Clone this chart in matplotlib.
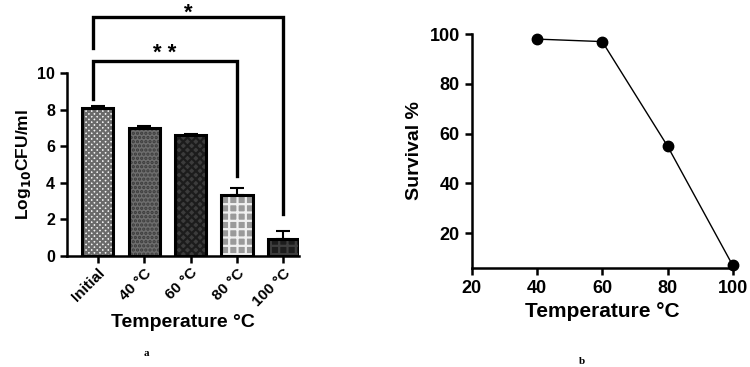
import numpy as np
import matplotlib
matplotlib.use("Agg")
import matplotlib.pyplot as plt

plt.rcParams["font.family"] = ["Liberation Sans", "DejaVu Sans"]
plt.rcParams["font.weight"] = "bold"
plt.rcParams["hatch.linewidth"] = 1.6

# panel a: bar chart
GROUPS = ["Initial", "40 °C", "60 °C", "80 °C", "100 °C"]
LOG_CFU = [8.1, 7.0, 6.62, 3.33, 0.92]
LOG_ERR = [0.1, 0.1, 0.05, 0.38, 0.47]
FACES = ["#f2f2f2", "#6e6e6e", "#3c3c3c", "#9a9a9a", "#1c1c1c"]
HATCH_COL = ["#6a6a6a", "#3a3a3a", "#1c1c1c", "#f0f0f0", "#3e3e3e"]
HATCHES = ["xxxxxx", "....", "xxxx", "++", "++"]

# significance brackets: (left idx, right idx, y bar, left leg end, right leg end, label, label baseline)
BRACKETS = [
    (0, 3, 10.66, 8.6, 4.37, "* *", 10.75),
    (0, 4, 13.06, 11.37, 2.3, "*", 12.95),
]

# panel b: survival
TEMP = [40, 60, 80, 100]
SURVIVAL = [98, 97, 55, 7]

fig = plt.figure(figsize=(7.5, 3.67), dpi=100)
axa = fig.add_axes([0.0893, 0.3025, 0.3097, 0.4985])
axb = fig.add_axes([0.629, 0.270, 0.348, 0.637])

x = np.arange(len(GROUPS))
w = 0.67
# pattern layer, then outline layer
for xi, v, fc, hc, ht in zip(x, LOG_CFU, FACES, HATCH_COL, HATCHES):
    axa.bar(xi, v, w, facecolor=fc, edgecolor=hc, hatch=ht, linewidth=0, zorder=2)
axa.bar(x, LOG_CFU, w, facecolor="none", edgecolor="black", linewidth=2.2, zorder=3)
axa.errorbar(x, LOG_CFU, yerr=[np.zeros(len(LOG_ERR)), LOG_ERR], fmt="none",
             ecolor="black", elinewidth=1.5, capsize=5, capthick=1.5, zorder=1)

for i, j, yb, yl, yr, lab, ly in BRACKETS:
    axa.plot([x[i] - 0.1, x[i] - 0.1, x[j], x[j]], [yl, yb, yb, yr], color="black",
             lw=2.4, clip_on=False, solid_joinstyle="miter", zorder=4)
    axa.text((x[i] - 0.1 + x[j]) / 2, ly, lab, ha="center", va="baseline",
             fontsize=16, fontweight="bold")

axa.set_xlim(-0.66, 4.34)
axa.set_ylim(0, 10)
axa.set_yticks([0, 2, 4, 6, 8, 10])
axa.set_xticks(x)
axa.set_xticklabels(GROUPS, rotation=45, ha="right", rotation_mode="anchor")
axa.set_ylabel("Log$_{\\mathbf{10}}$CFU/ml", fontsize=12.5, fontweight="bold", labelpad=3)
axa.set_xlabel("Temperature °C", fontsize=14, fontweight="bold", labelpad=4)
axa.spines[["top", "right"]].set_visible(False)
for s in ["left", "bottom"]:
    axa.spines[s].set_linewidth(1.8)
axa.tick_params(width=1.8, length=5, labelsize=11.5)
axa.tick_params(axis="x", labelsize=11, pad=2)

axb.plot(TEMP, SURVIVAL, "-o", color="black", lw=1.0, markersize=7.5, clip_on=False, zorder=3)
axb.set_xlim(20, 100)
axb.set_ylim(6, 100)
axb.set_xticks([20, 40, 60, 80, 100])
axb.set_yticks([20, 40, 60, 80, 100])
axb.set_xlabel("Temperature °C", fontsize=15, fontweight="bold", labelpad=4)
axb.set_ylabel("Survival %", fontsize=14, fontweight="bold", labelpad=5)
axb.spines[["top", "right"]].set_visible(False)
for s in ["left", "bottom"]:
    axb.spines[s].set_linewidth(1.8)
axb.tick_params(width=1.8, length=5, labelsize=13)

fig.text(146 / 750, 1 - 353 / 367, "a", ha="center", va="center",
         family=["Liberation Serif", "DejaVu Serif"], fontsize=8, fontweight="bold")
fig.text(582 / 750, 1 - 362 / 367, "b", ha="center", va="center",
         family=["Liberation Serif", "DejaVu Serif"], fontsize=8, fontweight="bold")

fig.savefig("out.png", dpi=100)
